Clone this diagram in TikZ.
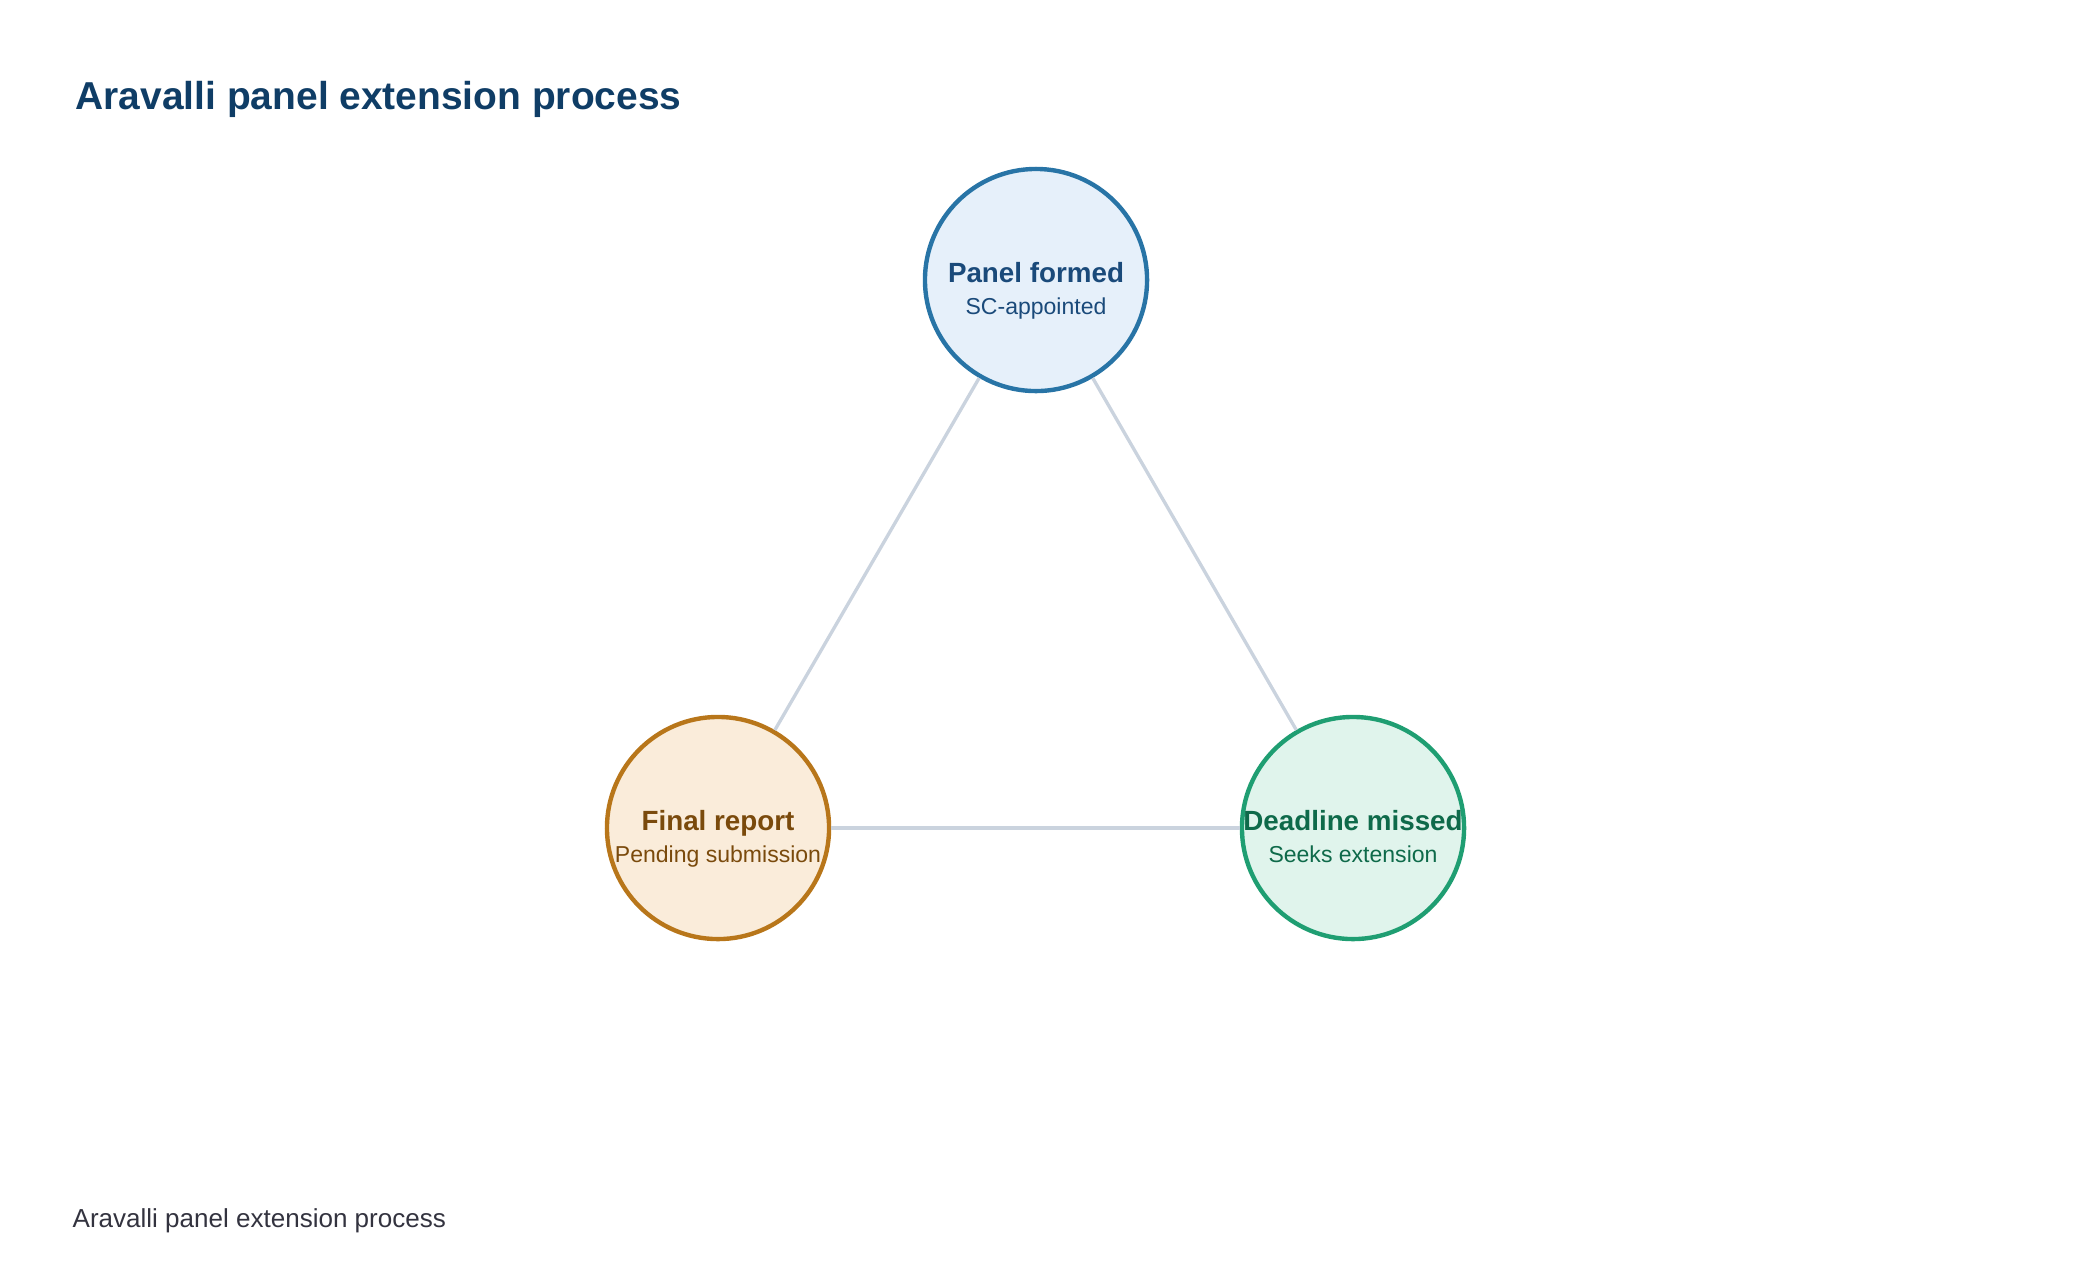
\documentclass[tikz,border=0pt]{standalone}
\usepackage{fontspec}
\setmainfont{Liberation Sans}
\usetikzlibrary{positioning}
\definecolor{titleink}{HTML}{0F3D66}
\definecolor{footink}{HTML}{33333F}
\definecolor{edgegray}{HTML}{CAD3DE}
\definecolor{blueline}{HTML}{2874A6}
\definecolor{bluebg}{HTML}{E6F0FA}
\definecolor{blueink}{HTML}{1A4A7A}
\definecolor{amberline}{HTML}{B8761A}
\definecolor{amberbg}{HTML}{FAECDA}
\definecolor{amberink}{HTML}{7A4A0C}
\definecolor{greenline}{HTML}{1F9E72}
\definecolor{greenbg}{HTML}{E0F4EC}
\definecolor{greenink}{HTML}{0E6A4A}
\tikzset{
  stage/.style={circle,line width=1.25pt,minimum size=2.22cm,inner sep=0pt},
  headtext/.style={anchor=base,inner sep=0pt,font=\fontsize{7.9}{9}\selectfont\bfseries},
  subtext/.style={anchor=base,inner sep=0pt,font=\fontsize{6.55}{8}\selectfont},
  link/.style={draw=edgegray,line width=0.95pt}
}

\begin{document}
\begin{tikzpicture}[x=0.01cm,y=-0.01cm]
  \useasboundingbox (0,0) rectangle (2080,1284);
  % title and footer
  \node[anchor=base west,inner sep=0pt,text=titleink,
        font=\fontsize{11.07}{13}\selectfont\bfseries] (title) at (75,109) {Aravalli panel extension process};
  \node[anchor=base west,inner sep=0pt,text=footink,
        font=\fontsize{7.4}{9}\selectfont] (footer) at (72,1227) {Aravalli panel extension process};
  % stages
  \node[stage,draw=blueline,fill=bluebg] (formed) at (1036,280) {};
  \node[stage,draw=amberline,fill=amberbg] (report) at (718,828) {};
  \node[stage,draw=greenline,fill=greenbg] (missed) at (1353,828) {};
  \node[headtext,text=blueink] (formedhead) at ([yshift=-0.02cm]formed.center) {Panel formed};
  \node[subtext,text=blueink] (formedsub) at ([yshift=-0.34cm]formed.center) {SC-appointed};
  \node[headtext,text=amberink] (reporthead) at ([yshift=-0.02cm]report.center) {Final report};
  \node[subtext,text=amberink] (reportsub) at ([yshift=-0.34cm]report.center) {Pending submission};
  \node[headtext,text=greenink] (missedhead) at ([yshift=-0.02cm]missed.center) {Deadline missed};
  \node[subtext,text=greenink] (missedsub) at ([yshift=-0.34cm]missed.center) {Seeks extension};
  % links
  \draw[link] (formed) -- (missed);
  \draw[link] (missed) -- (report);
  \draw[link] (report) -- (formed);
\end{tikzpicture}
\end{document}
